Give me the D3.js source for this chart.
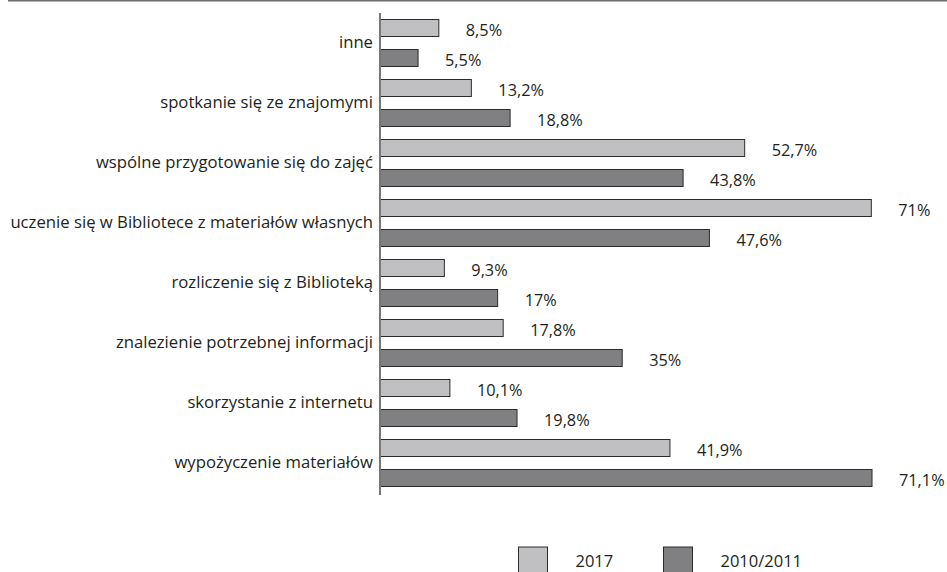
<!DOCTYPE html>
<html><head><meta charset="utf-8">
<script src="https://cdn.jsdelivr.net/npm/d3@7"></script>
<style>body{margin:0;background:#fff;} text{font-family:"Open Sans",sans-serif;fill:#231f20;}</style>
</head><body>
<svg id="c" width="947" height="572"></svg>
<script>
const categories = ["inne","spotkanie się ze znajomymi","wspólne przygotowanie się do zajęć","uczenie się w Bibliotece z materiałów własnych","rozliczenie się z Biblioteką","znalezienie potrzebnej informacji","skorzystanie z internetu","wypożyczenie materiałów"];
const seriesNames = ["2017","2010/2011"];
const values2017 = [8.5,13.2,52.7,71,9.3,17.8,10.1,41.9];
const values2010 = [5.5,18.8,43.8,47.6,17,35,19.8,71.1];
const labels2017 = ["8,5%","13,2%","52,7%","71%","9,3%","17,8%","10,1%","41,9%"];
const labels2010 = ["5,5%","18,8%","43,8%","47,6%","17%","35%","19,8%","71,1%"];
const colors = ["#c0c0c3","#808083"];

const svg = d3.select("#c");
const x = d3.scaleLinear().domain([0,100]).range([380,1072]);
const y = d3.scaleBand().domain(categories).range([13,493]);
const ys = d3.scaleBand().domain(seriesNames).range([0,y.bandwidth()]).paddingInner(0.4333).paddingOuter(0.2167);

svg.append("line").attr("x1",8).attr("x2",947).attr("y1",0.5).attr("y2",0.5).attr("stroke","#6d6d6d").attr("stroke-width",2);

const data = [];
categories.forEach((c,i)=>{
  data.push({c, s:seriesNames[0], v:values2017[i], l:labels2017[i]});
  data.push({c, s:seriesNames[1], v:values2010[i], l:labels2010[i]});
});
const colorOf = d3.scaleOrdinal().domain(seriesNames).range(colors);

svg.selectAll("rect.bar").data(data).join("rect").attr("class","bar")
  .attr("x",x(0)).attr("y",d=>y(d.c)+ys(d.s)).attr("width",d=>x(d.v)-x(0)).attr("height",ys.bandwidth())
  .attr("fill",d=>colorOf(d.s)).attr("stroke","#2b2b2b").attr("stroke-width",1);

svg.selectAll("text.val").data(data).join("text").attr("class","val")
  .attr("x",d=>x(d.v)+27).attr("y",d=>y(d.c)+ys(d.s)+ys.bandwidth()/2+2)
  .attr("dominant-baseline","central").style("font-size","16.3px").text(d=>d.l);

const yAxis = d3.axisLeft(y).tickSize(0).tickPadding(7);
const ga = svg.append("g").attr("transform","translate(380,0)").call(yAxis);
ga.attr("font-size",null).attr("font-family",null);
ga.select(".domain").attr("stroke","#777").attr("stroke-width",2).attr("d","M0,13V495");
ga.selectAll("text").style("font-size","16.7px").style("font-family","'Open Sans',sans-serif").attr("fill","#231f20");

const lx = [518.5,663.5];
const lg = svg.selectAll("g.leg").data(seriesNames).join("g").attr("class","leg")
  .attr("transform",(d,i)=>`translate(${lx[i]},547)`);
lg.append("rect").attr("width",29).attr("height",30).attr("fill",d=>colorOf(d)).attr("stroke","#2b2b2b");
lg.append("text").attr("x",57).attr("y",20).style("font-size","16.5px").text(d=>d);
</script>
</body></html>
